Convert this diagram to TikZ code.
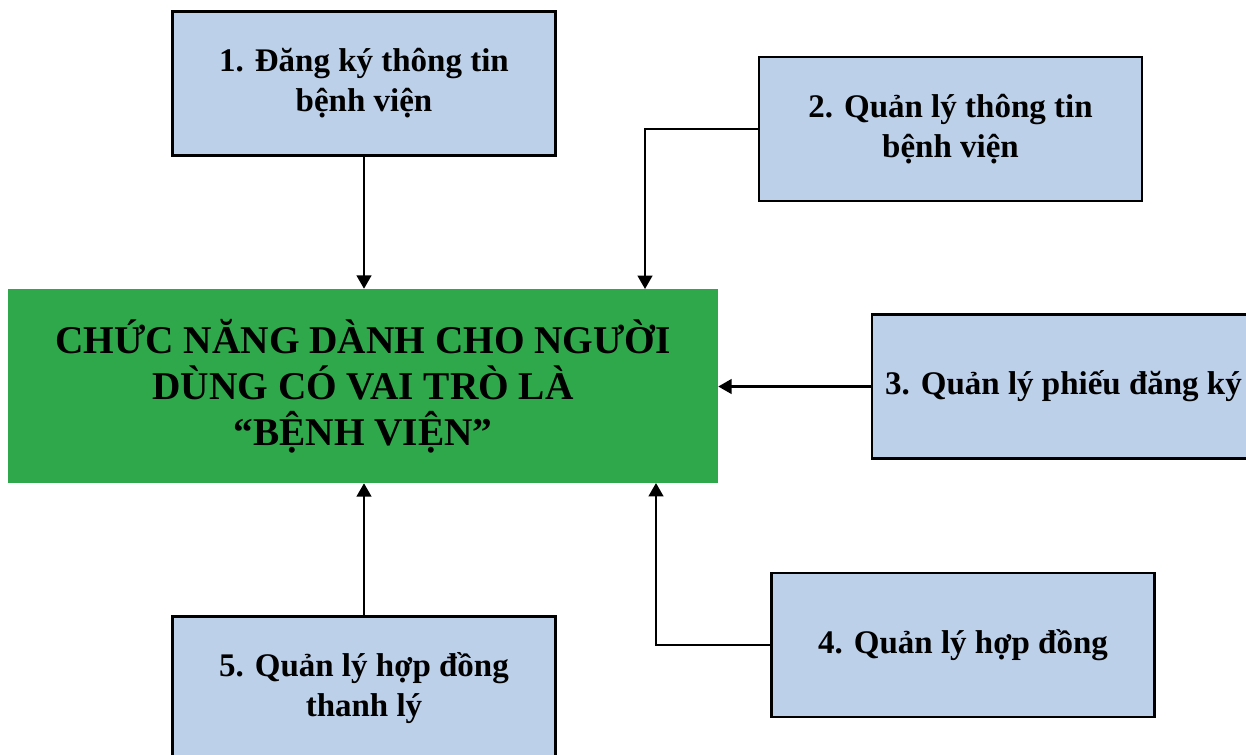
\documentclass[tikz,border=0pt]{standalone}
\usepackage{fontspec}
\setmainfont{Liberation Serif}
\usetikzlibrary{arrows.meta, positioning}
\definecolor{boxblue}{RGB}{189,208,233}
\definecolor{rolegreen}{RGB}{46,168,74}

\begin{document}
\begin{tikzpicture}[
  x=0.75pt, y=-0.75pt,
  block/.style={draw, line width=1.8pt, fill=boxblue, inner sep=0pt, minimum width=287pt, minimum height=108pt, align=center, font=\fontsize{24.75}{30}\selectfont\bfseries},
  role/.style={fill=rolegreen, inner sep=0pt, minimum width=532.5pt, minimum height=145.5pt, align=center, font=\fontsize{29.5}{34.5}\selectfont\bfseries},
  line/.style={-{Triangle[length=10pt, width=11pt]}, line width=1.6pt}
]
\useasboundingbox (0,0) rectangle (1246,754);
\clip (0,0) rectangle (1246,754);

\node[role] (role) at (363,386) {CHỨC NĂNG DÀNH CHO NGƯỜI\\DÙNG CÓ VAI TRÒ LÀ\\“BỆNH VIỆN”};

\node[block] (reg) at (364,83.5) {1. Đăng ký thông tin\\bệnh viện};
\node[block] (info) at (950.5,129) {2. Quản lý thông tin\\bệnh viện};
\node[block] (ticket) at (1063.5,386.5) {3. Quản lý phiếu đăng ký};
\node[block] (contract) at (963,645) {4. Quản lý hợp đồng};
\node[block] (liquid) at (364,688.5) {5. Quản lý hợp đồng\\thanh lý};

% entry points on the green box
\coordinate (in2) at (645,289);
\coordinate (in4) at (656,483);

\draw[line] (reg.south) -- (reg.south |- role.north);
\draw[line] (info.west) -| (in2);
\draw[line] (ticket.west) -- (ticket.west -| role.east);
\draw[line] (contract.west) -| (in4);
\draw[line] (liquid.north) -- (liquid.north |- role.south);
\end{tikzpicture}
\end{document}
